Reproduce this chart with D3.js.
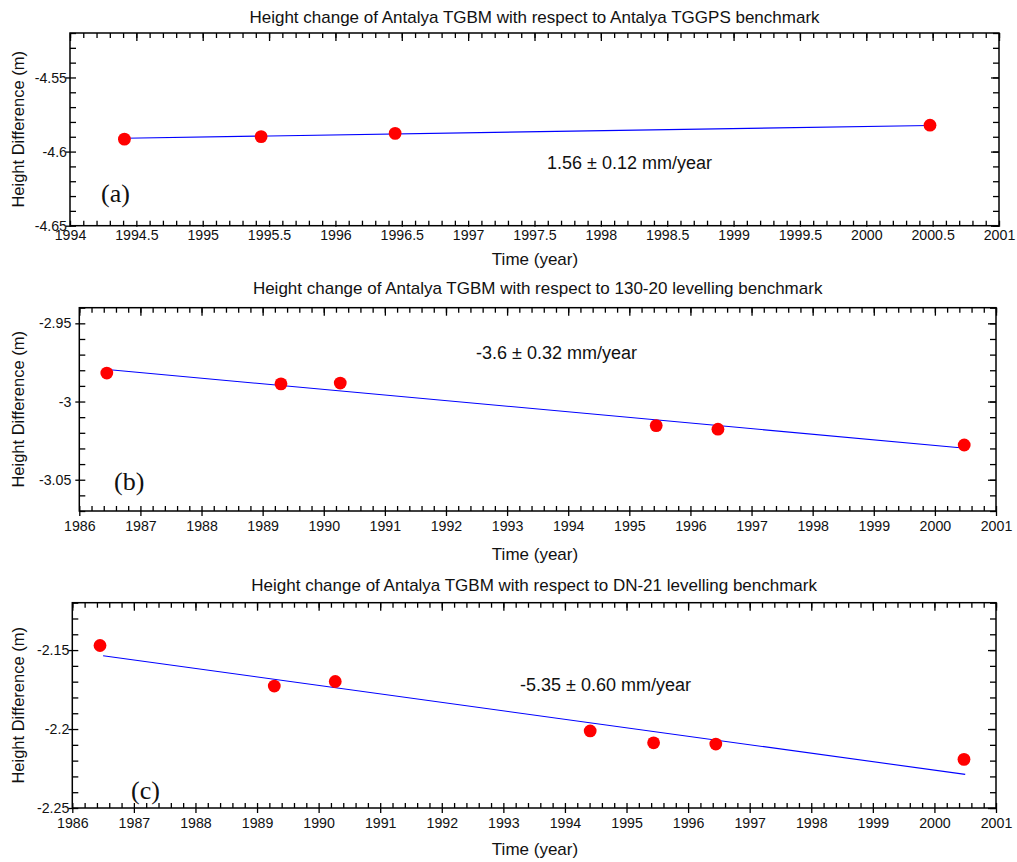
<!DOCTYPE html>
<html>
<head>
<meta charset="utf-8">
<script src="https://cdn.jsdelivr.net/npm/d3@7"></script>
<style>
  body { margin: 0; background: #fff; }
  svg { display: block; font-family: "Liberation Sans", Arial, sans-serif; }
</style>
</head>
<body>
<svg id="chart" width="1017" height="862"></svg>
<script>
// panel (a) - Antalya TGGPS benchmark
const yearsA  = [1994.41, 1995.44, 1996.45, 2000.48];
const heightA = [-4.5916, -4.5899, -4.5877, -4.5822];
const fitYearsA  = [1994.41, 2000.48];
const fitHeightA = [-4.5910, -4.5824];
const xTicksA = [1994, 1994.5, 1995, 1995.5, 1996, 1996.5, 1997, 1997.5, 1998, 1998.5, 1999, 1999.5, 2000, 2000.5, 2001];
const yTicksA = [-4.65, -4.6, -4.55];

// panel (b) - 130-20 levelling benchmark
const yearsB  = [1986.45, 1989.30, 1990.27, 1995.44, 1996.45, 2000.48];
const heightB = [-2.9818, -2.9887, -2.9882, -3.0154, -3.0177, -3.0278];
const fitYearsB  = [1986.5, 2000.5];
const fitHeightB = [-2.9797, -3.0299];
const xTicksB = [1986, 1987, 1988, 1989, 1990, 1991, 1992, 1993, 1994, 1995, 1996, 1997, 1998, 1999, 2000, 2001];
const yTicksB = [-3.05, -3, -2.95];

// panel (c) - DN-21 levelling benchmark
const yearsC  = [1986.45, 1989.28, 1990.27, 1994.41, 1995.44, 1996.45, 2000.48];
const heightC = [-2.1471, -2.1728, -2.1699, -2.2012, -2.2087, -2.2095, -2.2192];
const fitYearsC  = [1986.5, 2000.5];
const fitHeightC = [-2.1536, -2.2287];
const xTicksC = xTicksB;
const yTicksC = [-2.25, -2.2, -2.15];

const titles = [
  "Height change of Antalya TGBM with respect to Antalya TGGPS benchmark",
  "Height change of Antalya TGBM with respect to 130-20 levelling benchmark",
  "Height change of Antalya TGBM with respect to DN-21 levelling benchmark"
];
const rates = ["1.56 \u00b1 0.12 mm/year", "-3.6 \u00b1 0.32 mm/year", "-5.35 \u00b1 0.60 mm/year"];
const tags = ["(a)", "(b)", "(c)"];

const svg = d3.select("#chart");
const fmt = d => String(+d.toFixed(3));
const TXT = "#111";

// layout per panel: plot box, label offsets
const panels = [
  { years: yearsA, h: heightA, fx: fitYearsA, fy: fitHeightA, xt: xTicksA, yt: yTicksA,
    xd: [1994, 2001], yd: [-4.65, -4.52], xMinor: 0.1, yMinor: 0.01,
    box: [70, 33, 999, 225.7], xPad: 0, yPad: -1, titleY: 22.5, xLabY: 265,
    rateAt: [547, 168.5], tagAt: [101, 202] },
  { years: yearsB, h: heightB, fx: fitYearsB, fy: fitHeightB, xt: xTicksB, yt: yTicksB,
    xd: [1986, 2001], yd: [-3.07, -2.94], xMinor: 0.2, yMinor: 0.01,
    box: [79.3, 307.7, 996, 511], xPad: 5, yPad: 4, titleY: 294, xLabY: 560,
    rateAt: [476, 359], tagAt: [114, 490] },
  { years: yearsC, h: heightC, fx: fitYearsC, fy: fitHeightC, xt: xTicksC, yt: yTicksC,
    xd: [1986, 2001], yd: [-2.25, -2.12], xMinor: 0.2, yMinor: 0.01,
    box: [72.3, 602.7, 996, 808], xPad: 5, yPad: -1, titleY: 590.5, xLabY: 855,
    rateAt: [520, 691], tagAt: [131, 799] }
];

panels.forEach((p, i) => {
  const [x0, y0, x1, y1] = p.box;
  const w = x1 - x0, h = y1 - y0;
  const g = svg.append("g").attr("transform", `translate(${x0},${y0})`);
  const x = d3.scaleLinear().domain(p.xd).range([0, w]);
  const y = d3.scaleLinear().domain(p.yd).range([h, 0]);

  const minorX = d3.range(p.xd[0], p.xd[1] + 1e-9, p.xMinor).map(v => +v.toFixed(3));
  const minorY = d3.range(p.yd[0], p.yd[1] + 1e-9, p.yMinor).map(v => +v.toFixed(3));

  const tidy = sel => { sel.select(".domain").remove(); sel.selectAll("line").attr("stroke", "#000").attr("stroke-width", 1.3); };
  const labels = sel => sel.selectAll("text").attr("font-size", 14.2).attr("font-family", "Liberation Sans, Arial, sans-serif").attr("fill", TXT);

  // minor ticks, all four sides, pointing inward
  g.append("g").attr("transform", `translate(0,${h})`).call(d3.axisBottom(x).tickValues(minorX).tickSize(-5).tickFormat("")).call(tidy);
  g.append("g").call(d3.axisTop(x).tickValues(minorX).tickSize(-5).tickFormat("")).call(tidy);
  g.append("g").call(d3.axisLeft(y).tickValues(minorY).tickSize(-6).tickFormat("")).call(tidy);
  g.append("g").attr("transform", `translate(${w},0)`).call(d3.axisRight(y).tickValues(minorY).tickSize(-6).tickFormat("")).call(tidy);

  // major ticks: outward on bottom/left with labels, longer inward on top/right
  g.append("g").attr("transform", `translate(0,${h})`)
    .call(d3.axisBottom(x).tickValues(p.xt).tickSize(p.xPad > 0 ? 5 : 1).tickPadding(p.xPad > 0 ? p.xPad : 3).tickFormat(fmt))
    .call(tidy).call(labels);
  g.append("g").call(d3.axisTop(x).tickValues(p.xt).tickSize(-8).tickFormat("")).call(tidy);
  g.append("g")
    .call(d3.axisLeft(y).tickValues(p.yt).tickSize(4).tickPadding(p.yPad).tickFormat(fmt))
    .call(tidy).call(labels);
  g.append("g").attr("transform", `translate(${w},0)`).call(d3.axisRight(y).tickValues(p.yt).tickSize(-8).tickFormat("")).call(tidy);

  g.append("rect").attr("width", w).attr("height", h)
    .attr("fill", "none").attr("stroke", "#000").attr("stroke-width", 1.5);

  // regression line
  const fit = p.fx.map((v, k) => [v, p.fy[k]]);
  g.append("path").datum(fit)
    .attr("d", d3.line().x(d => x(d[0])).y(d => y(d[1])))
    .attr("fill", "none").attr("stroke", "#0000ff").attr("stroke-width", 1.1);

  // observations
  g.selectAll("circle.pt").data(p.years.map((v, k) => [v, p.h[k]])).enter()
    .append("circle").attr("class", "pt")
    .attr("cx", d => x(d[0])).attr("cy", d => y(d[1])).attr("r", 6.4)
    .attr("fill", "#ff0000");

  // texts
  svg.append("text").attr("x", (x0 + x1) / 2).attr("y", p.titleY)
    .attr("text-anchor", "middle").attr("font-size", 17).attr("fill", TXT).text(titles[i]);
  svg.append("text").attr("x", 535).attr("y", p.xLabY)
    .attr("text-anchor", "middle").attr("font-size", 17).attr("fill", TXT).text("Time (year)");
  svg.append("text")
    .attr("transform", `translate(24,${(y0 + y1) / 2}) rotate(-90)`)
    .attr("text-anchor", "middle").attr("font-size", 16.5).attr("fill", TXT).text("Height Difference (m)");
  svg.append("text").attr("x", p.rateAt[0]).attr("y", p.rateAt[1])
    .attr("font-size", 18).attr("fill", TXT).text(rates[i]);
  svg.append("text").attr("x", p.tagAt[0]).attr("y", p.tagAt[1])
    .attr("font-family", "Liberation Serif, Times New Roman, serif")
    .attr("font-size", 26).attr("fill", TXT).text(tags[i]);
});
</script>
</body>
</html>
